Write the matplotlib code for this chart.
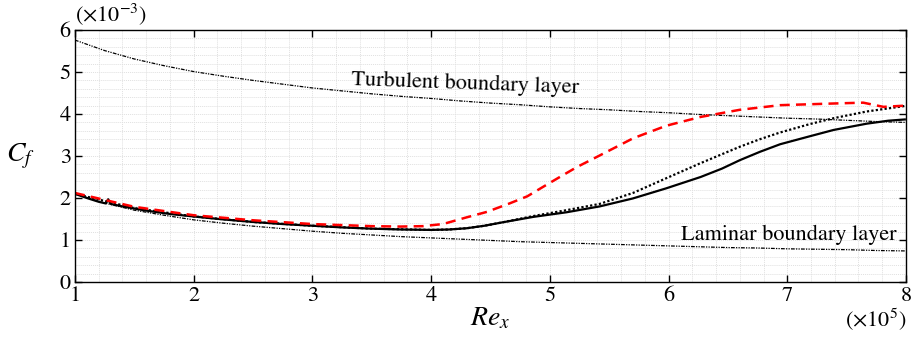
import numpy as np
import matplotlib
matplotlib.use("Agg")
import matplotlib.pyplot as plt
from matplotlib.ticker import MultipleLocator

plt.rcParams["font.family"] = ["STIXGeneral", "Liberation Serif", "DejaVu Serif"]
plt.rcParams["mathtext.fontset"] = "stix"

# Re_x in units of 1e5, Cf in units of 1e-3
re_ref = [1.0, 1.25, 1.5, 1.75, 2.0, 2.25, 2.5, 2.75, 3.0, 3.25, 3.5, 3.75, 4.0,
          4.25, 4.5, 4.75, 5.0, 5.25, 5.5, 5.75, 6.0, 6.25, 6.5, 6.75, 7.0,
          7.25, 7.5, 7.75, 8.0]
cf_laminar = [2.10, 1.88, 1.71, 1.59, 1.48, 1.40, 1.33, 1.27, 1.21, 1.16, 1.12,
              1.08, 1.05, 1.02, 0.99, 0.96, 0.94, 0.92, 0.90, 0.88, 0.86, 0.84,
              0.82, 0.81, 0.79, 0.78, 0.77, 0.75, 0.74]
cf_turbulent = [5.76, 5.51, 5.31, 5.15, 5.01, 4.90, 4.80, 4.71, 4.62, 4.55, 4.48,
                4.42, 4.37, 4.31, 4.26, 4.22, 4.17, 4.13, 4.10, 4.06, 4.03, 3.99,
                3.96, 3.93, 3.90, 3.88, 3.85, 3.82, 3.80]

# solid black
re_solid = [1.0, 1.1, 1.2, 1.26, 1.28, 1.30, 1.4, 1.6, 1.8, 2.0, 2.25, 2.5, 2.75,
            3.0, 3.25, 3.5, 3.75, 4.0, 4.15, 4.3, 4.45, 4.6, 4.86, 5.14, 5.42,
            5.70, 5.98, 6.27, 6.45, 6.60, 6.77, 6.94, 7.19, 7.39, 7.67, 7.85,
            7.99]
cf_solid = [2.10, 2.00, 1.91, 1.87, 1.97, 1.86, 1.80, 1.70, 1.62, 1.56, 1.49,
            1.43, 1.38, 1.34, 1.30, 1.27, 1.25, 1.24, 1.25, 1.28, 1.34, 1.42,
            1.55, 1.66, 1.80, 1.99, 2.23, 2.50, 2.70, 2.90, 3.10, 3.28, 3.47,
            3.62, 3.77, 3.84, 3.87]

# dotted black
re_dot = [1.0, 1.5, 2.0, 2.5, 3.0, 3.5, 4.0, 4.15, 4.3, 4.45, 4.6, 4.86, 5.14,
          5.42, 5.70, 5.98, 6.27, 6.60, 6.77, 6.94, 7.19, 7.39, 7.67, 7.99]
cf_dot = [2.10, 1.76, 1.56, 1.43, 1.34, 1.27, 1.24, 1.25, 1.28, 1.34, 1.42,
          1.57, 1.71, 1.86, 2.12, 2.47, 2.83, 3.22, 3.40, 3.56, 3.76, 3.90,
          4.06, 4.19]

# red dashed
re_red = [1.0, 1.5, 2.0, 2.5, 3.0, 3.5, 3.74, 3.93, 4.10, 4.30, 4.47, 4.66, 4.81,
          4.94, 5.09, 5.23, 5.37, 5.48, 5.70, 5.98, 6.27, 6.60, 6.94, 7.39,
          7.64, 7.81, 8.0]
cf_red = [2.12, 1.79, 1.59, 1.47, 1.38, 1.33, 1.32, 1.33, 1.38, 1.54, 1.67,
          1.87, 2.04, 2.26, 2.51, 2.74, 2.94, 3.10, 3.42, 3.72, 3.93, 4.10,
          4.21, 4.25, 4.27, 4.17, 4.20]

fig = plt.figure(figsize=(9.13, 3.42), dpi=100)
ax = fig.add_axes([0.0821, 0.1754, 0.9102, 0.7369])

ax.plot(re_ref, cf_turbulent, color="black", lw=0.9, ls=(0, (3, 1, 1, 1, 1, 1)))
ax.plot(re_ref, cf_laminar, color="black", lw=0.9, ls=(0, (3, 1, 1, 1, 1, 1)))
ax.plot(re_dot, cf_dot, color="black", lw=1.6, ls=(0, (1, 1)))
ax.plot(re_solid, cf_solid, color="black", lw=1.6)
ax.plot(re_red, cf_red, color="red", lw=1.8, ls=(0, (4, 2.5)))

ax.set_xlim(1, 8)
ax.set_ylim(0, 6)
ax.xaxis.set_major_locator(MultipleLocator(1))
ax.yaxis.set_major_locator(MultipleLocator(1))
ax.xaxis.set_minor_locator(MultipleLocator(0.2))
ax.yaxis.set_minor_locator(MultipleLocator(0.2))
ax.grid(which="both", color="#e0e0e0", lw=0.7, ls=(0, (1, 1)))
ax.set_axisbelow(True)
ax.tick_params(which="major", direction="in", top=True, right=True, length=5,
               width=1, labelsize=16, pad=3)
ax.tick_params(which="minor", length=0)
for s in ax.spines.values():
    s.set_linewidth(1.0)

ax.text(4.29, 4.72, "Turbulent boundary layer", fontsize=16, ha="center",
        va="center", rotation=-2)
ax.text(7.92, 1.12, "Laminar boundary layer", fontsize=16, ha="right",
        va="center")

ax.text(0.0, 1.01, r"$(\times 10^{-3})$", transform=ax.transAxes, fontsize=16,
        ha="left", va="bottom")
ax.text(1.0, -0.10, r"$(\times 10^{5})$", transform=ax.transAxes, fontsize=16,
        ha="right", va="top")
ax.set_xlabel(r"$Re_x$", fontsize=20, labelpad=0)
ax.set_ylabel(r"$C_f$", fontsize=20, rotation=0, labelpad=28, va="center")

fig.savefig("out.png", dpi=100)
